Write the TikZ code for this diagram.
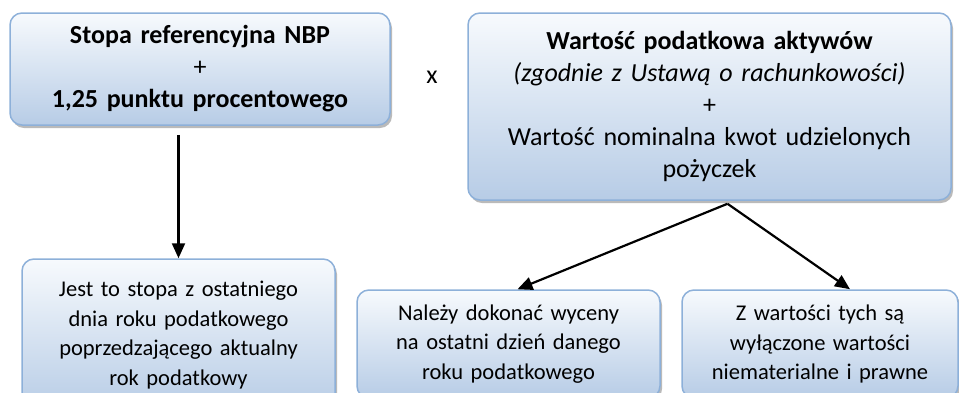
\documentclass[tikz,border=0pt]{standalone}
\usepackage{fontspec}
\setmainfont{Carlito}
\usetikzlibrary{positioning,arrows.meta,shadows}
\definecolor{ramka}{HTML}{8DB0D9}
\definecolor{gora}{HTML}{F7FAFD}
\definecolor{dol}{HTML}{B7CCE6}

\begin{document}
\begin{tikzpicture}[
  x=1pt,y=-1pt,
  >={Triangle[width=13pt,length=15pt]},
  every node/.style={font=\fontsize{26}{32}\selectfont},
  pole/.style={rectangle,rounded corners=12pt,draw=ramka,line width=1.5pt,
    top color=gora,bottom color=dol,align=center,inner xsep=8pt,inner ysep=0pt,
    drop shadow={shadow xshift=2pt,shadow yshift=-3pt,fill=black!45,opacity=.6}},
  maly/.style={font=\fontsize{22.5}{29.5}\selectfont},
  strzalka/.style={->,line width=2.2pt}
]
\clip (0,0) rectangle (959,392);

% górne pola
\node[pole,text width=364pt,minimum height=112pt] (stopa) at (200,69)
  {\textbf{Stopa referencyjna NBP}\\ +\\ \textbf{1,25 punktu procentowego}};
\node (razy) at (432,77) {x};
\node[pole,text width=467pt,minimum height=187pt] (wartosc) at (709.5,106.5)
  {\textbf{Wartość podatkowa aktywów}\\ \textit{(zgodnie z Ustawą o rachunkowości)}\\ +\\
   Wartość nominalna kwot udzielonych\\ pożyczek};

% dolne pola
\node[pole,maly,text width=297pt,minimum height=152pt] (ostatni) at (178.5,335)
  {Jest to stopa z ostatniego\\ dnia roku podatkowego\\ poprzedzającego aktualny\\ rok podatkowy};
\node[pole,maly,text width=287pt,minimum height=108pt] (wycena) at (508.5,344)
  {Należy dokonać wyceny\\ na ostatni dzień danego\\ roku podatkowego};
\node[pole,maly,text width=260pt,minimum height=108pt] (wylaczone) at (820,344)
  {Z wartości tych są\\ wyłączone wartości\\ niematerialne i prawne};

% strzałki
\coordinate (rozw) at ([xshift=18pt,yshift=-3pt]wartosc.south);
\draw[strzalka,shorten <=9pt] (ostatni.north |- stopa.south) -- (ostatni.north);
\draw[strzalka] (rozw) -- ([xshift=9pt]wycena.north);
\draw[strzalka] (rozw) -- ([xshift=30pt]wylaczone.north);
\end{tikzpicture}
\end{document}
